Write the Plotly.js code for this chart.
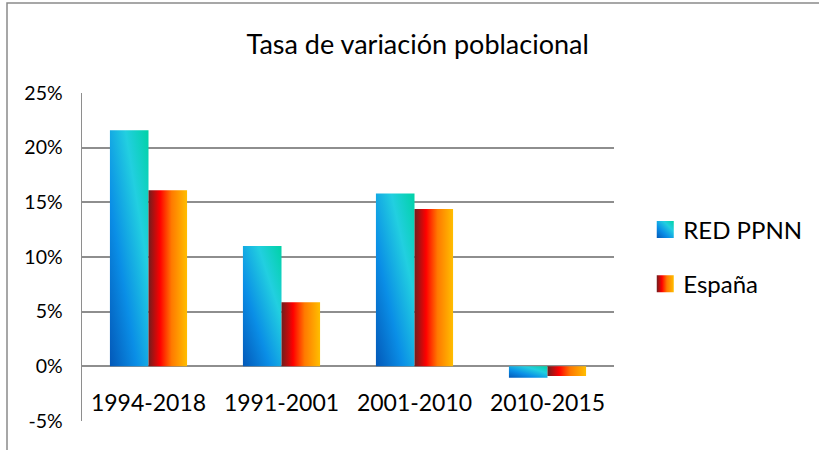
<!DOCTYPE html>
<html>
<head>
<meta charset="utf-8">
<script src="https://cdn.plot.ly/plotly-3.0.1.min.js"></script>
<style>
  html, body { margin: 0; padding: 0; background: #fff; }
  #chart { width: 819px; height: 450px; }
</style>
</head>
<body>
<div id="chart"></div>
<script>
// ---- data ----
const categories = ["1994-2018", "1991-2001", "2001-2010", "2010-2015"];
const redPPNN = [21.6, 11.0, 15.8, -1.05];
const espana = [16.1, 5.85, 14.4, -0.88];
const seriesNames = ["RED PPNN", "España"];
const yTickVals = [-5, 0, 5, 10, 15, 20, 25];
const yTickText = ["-5%", "0%", "5%", "10%", "15%", "20%", "25%"];
const chartTitle = "Tasa de variación poblacional";

const FONT = "Lato, 'Open Sans', sans-serif";

const traces = [
  {
    type: "bar", name: seriesNames[0], x: categories, y: redPPNN,
    marker: { color: "#0a9be0", line: { width: 0 } },
    legendgroup: "a"
  },
  {
    type: "bar", name: seriesNames[1], x: categories, y: espana,
    marker: { color: "#ff4000", line: { width: 0 } },
    legendgroup: "b"
  }
];

const layout = {
  width: 819, height: 450,
  margin: { l: 82, r: 205, t: 93, b: 29, pad: 0 },
  paper_bgcolor: "#ffffff",
  plot_bgcolor: "#ffffff",
  font: { family: FONT, color: "#000000", size: 18 },
  title: {
    text: chartTitle,
    font: { family: FONT, size: 27, color: "#000000" },
    xref: "container", x: 0.51, xanchor: "center",
    yref: "container", y: 0.9, yanchor: "middle"
  },
  barmode: "group",
  bargap: 0.42,
  bargroupgap: 0,
  showlegend: true,
  legend: {
    x: 1.055, xanchor: "left", y: 0.5, yanchor: "middle",
    font: { family: FONT, size: 24, color: "#000000" },
    traceorder: "grouped", tracegroupgap: 20,
    bgcolor: "rgba(0,0,0,0)"
  },
  xaxis: {
    type: "category",
    anchor: "free", position: (0 - (-5)) / 30,
    showline: false, showgrid: false, zeroline: false,
    ticks: "outside", ticklen: 16, tickcolor: "rgba(0,0,0,0)",
    tickfont: { family: FONT, size: 23, color: "#000000" },
    automargin: false
  },
  yaxis: {
    range: [-5, 25],
    tickvals: yTickVals, ticktext: yTickText,
    showgrid: true, gridcolor: "#8e8e8e", gridwidth: 2,
    zeroline: false,
    showline: true, linecolor: "#8e8e8e", linewidth: 1.5,
    ticks: "outside", ticklen: 14, tickcolor: "rgba(0,0,0,0)",
    tickfont: { family: FONT, size: 19.5, color: "#000000" },
    automargin: false
  },
  shapes: [
    {
      type: "rect", xref: "paper", yref: "paper",
      x0: (7 - 82) / 532, x1: 2, y0: -0.3, y1: (421 - 3) / 328,
      line: { color: "#8a8a8a", width: 1.5 }, fillcolor: "rgba(0,0,0,0)",
      layer: "below"
    }
  ]
};

function addGradients(gd) {
  const svg = gd.querySelector("svg.main-svg");
  const NS = "http://www.w3.org/2000/svg";
  let defs = svg.querySelector("defs");
  if (!defs) { defs = document.createElementNS(NS, "defs"); svg.insertBefore(defs, svg.firstChild); }
  function grad(id, x1, y1, x2, y2, stops) {
    const g = document.createElementNS(NS, "linearGradient");
    g.setAttribute("id", id);
    g.setAttribute("x1", x1); g.setAttribute("y1", y1);
    g.setAttribute("x2", x2); g.setAttribute("y2", y2);
    stops.forEach(s => {
      const st = document.createElementNS(NS, "stop");
      st.setAttribute("offset", s[0]);
      st.setAttribute("stop-color", s[1]);
      g.appendChild(st);
    });
    defs.appendChild(g);
  }
  grad("gBlue", 0, 1, 1, 0, [[0, "#0358b8"], [0.35, "#0a8ee6"], [0.7, "#22cfe0"], [1, "#00d2a6"]]);
  grad("gRed", 0, 0, 1, 0, [[0, "#6e1e1e"], [0.3, "#ff0000"], [0.6, "#ff7a00"], [1, "#ffbe00"]]);
  const ids = ["gBlue", "gRed"];
  gd.querySelectorAll(".barlayer .trace.bars").forEach((t, i) => {
    t.querySelectorAll("path").forEach(p => { p.style.fill = "url(#" + ids[i] + ")"; });
  });
  gd.querySelectorAll(".legend .traces").forEach((t, i) => {
    t.querySelectorAll(".legendpoints path").forEach(p => {
      p.style.fill = "url(#" + ids[i] + ")";
      p.setAttribute("transform", "translate(22,0)");
      p.setAttribute("d", "M8.5,8.5H-8.5V-8.5H8.5Z");
    });
  });
}

Plotly.newPlot("chart", traces, layout, { staticPlot: true, displayModeBar: false })
  .then(gd => addGradients(gd));
</script>
</body>
</html>
